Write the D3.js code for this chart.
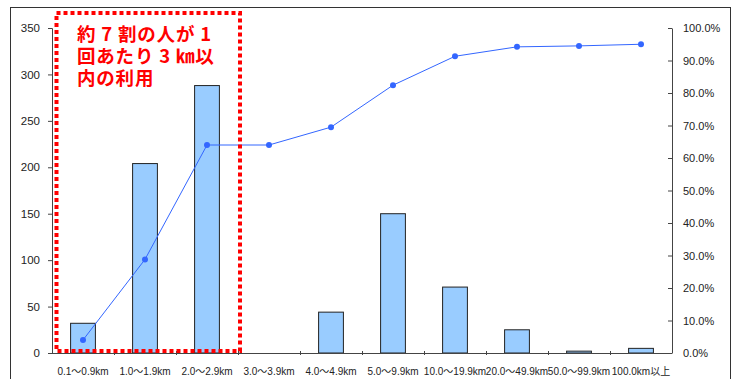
<!DOCTYPE html>
<html>
<head>
<meta charset="utf-8">
<script src="https://cdn.jsdelivr.net/npm/d3@7/dist/d3.min.js"></script>
<style>
  body { margin: 0; background: #fff; }
  svg { display: block; }
  text { font-family: "Liberation Sans", Arial, "Noto Sans CJK JP", sans-serif; fill: #222; }
</style>
</head>
<body>
<div id="chart"></div>
<script>
// distance bands (categories)
var categories = ['0.1〜0.9km', '1.0〜1.9km', '2.0〜2.9km', '3.0〜3.9km', '4.0〜4.9km',
                  '5.0〜9.9km', '10.0〜19.9km', '20.0〜49.9km', '50.0〜99.9km', '100.0km以上'];
// number of people (left axis)
var counts = [32, 204, 288, 0, 44, 150, 71, 25, 2, 5];
// cumulative share in % (right axis)
var cumulative = [4.0, 28.8, 64.0, 64.0, 69.5, 82.4, 91.3, 94.2, 94.5, 95.0];
var leftTicks = [0, 50, 100, 150, 200, 250, 300, 350];
var rightTicks = [0, 10, 20, 30, 40, 50, 60, 70, 80, 90, 100];
var noteLines = ['約 7 割の人が 1', '回あたり 3 ㎞以', '内の利用'];

var width = 736, height = 379;
var plotLeft = 52, plotRight = 672, plotTop = 28, plotBottom = 353;

var svg = d3.select('#chart').append('svg')
	.attr('width', width)
	.attr('height', height);

// outer frame
svg.append('rect')
	.attr('x', 10.5).attr('y', 7.5)
	.attr('width', 720).attr('height', 380)
	.style('fill', 'none')
	.style('stroke', '#333')
	.style('stroke-width', 1);

var x = d3.scaleBand().domain(categories).range([plotLeft, plotRight]).paddingInner(0.6).paddingOuter(0.3);
var yL = d3.scaleLinear().domain([0, 350]).range([plotBottom, plotTop]);
var yR = d3.scaleLinear().domain([0, 100]).range([plotBottom, plotTop]);

// bars
svg.selectAll('.bar').data(counts).enter().append('rect')
	.attr('class', 'bar')
	.attr('x', function(d, i) {return x(categories[i]);})
	.attr('y', function(d) {return yL(d);})
	.attr('width', x.bandwidth())
	.attr('height', function(d) {return yL(0) - yL(d);})
	.style('fill', '#99CCFF')
	.style('stroke', function(d) {return d > 0 ? '#222' : 'none';})
	.style('stroke-width', 1);

// left axis
var gL = svg.append('g')
	.attr('transform', 'translate(' + plotLeft + ',0)')
	.call(d3.axisLeft(yL).tickValues(leftTicks).tickSize(4).tickPadding(8));
gL.selectAll('text').style('font-size', '11.5px');

// right axis
var gR = svg.append('g')
	.attr('transform', 'translate(' + plotRight + ',0)')
	.call(d3.axisRight(yR).tickValues(rightTicks).tickSizeInner(-4).tickSizeOuter(0).tickPadding(11)
		.tickFormat(function(d) {return d.toFixed(1) + '%';}));
gR.selectAll('text').style('font-size', '11px');

[gL, gR].forEach(function(g) {
	g.select('.domain').style('stroke', '#444');
	g.selectAll('line').style('stroke', '#444');
	g.selectAll('text').style('fill', '#222');
});

// x axis
svg.append('line')
	.attr('x1', plotLeft).attr('x2', plotRight)
	.attr('y1', plotBottom + 0.5).attr('y2', plotBottom + 0.5)
	.style('stroke', '#444');

svg.selectAll('.xtick').data(categories.slice(1)).enter().append('line')
	.attr('class', 'xtick')
	.attr('x1', function(d) {return Math.round(x(d) - x.step() * 0.3) + 0.5;})
	.attr('x2', function(d) {return Math.round(x(d) - x.step() * 0.3) + 0.5;})
	.attr('y1', plotBottom - 2).attr('y2', plotBottom + 2)
	.style('stroke', '#444');

svg.selectAll('.xlabel').data(categories).enter().append('text')
	.attr('class', 'xlabel')
	.attr('x', function(d) {return x(d) + x.bandwidth() / 2;})
	.attr('y', 375)
	.attr('text-anchor', 'middle')
	.style('font-size', '10px')
	.text(function(d) {return d;});

// cumulative line
var line = d3.line()
	.x(function(d, i) {return x(categories[i]) + x.bandwidth() / 2;})
	.y(function(d) {return yR(d);});

svg.append('path')
	.datum(cumulative)
	.attr('d', line)
	.style('fill', 'none')
	.style('stroke', '#3366FF')
	.style('stroke-width', 1);

svg.selectAll('.pt').data(cumulative).enter().append('circle')
	.attr('class', 'pt')
	.attr('cx', function(d, i) {return x(categories[i]) + x.bandwidth() / 2;})
	.attr('cy', function(d) {return yR(d);})
	.attr('r', 3)
	.style('fill', '#3366FF');

// red dotted highlight box
svg.append('rect')
	.attr('x', 56.5).attr('y', 13)
	.attr('width', 183.5).attr('height', 338)
	.style('fill', 'none')
	.style('stroke', '#FF0000')
	.style('stroke-width', 4)
	.style('stroke-dasharray', '4 3');

svg.selectAll('.note').data(noteLines).enter().append('text')
	.attr('class', 'note')
	.attr('x', 77)
	.attr('y', function(d, i) {return 41 + i * 22;})
	.style('font-family', '"Noto Sans CJK JP", sans-serif')
	.style('font-weight', 'bold')
	.style('font-size', '18.5px')
	.style('letter-spacing', '0.8px')
	.style('fill', '#FF0000')
	.text(function(d) {return d;});
</script>
</body>
</html>
